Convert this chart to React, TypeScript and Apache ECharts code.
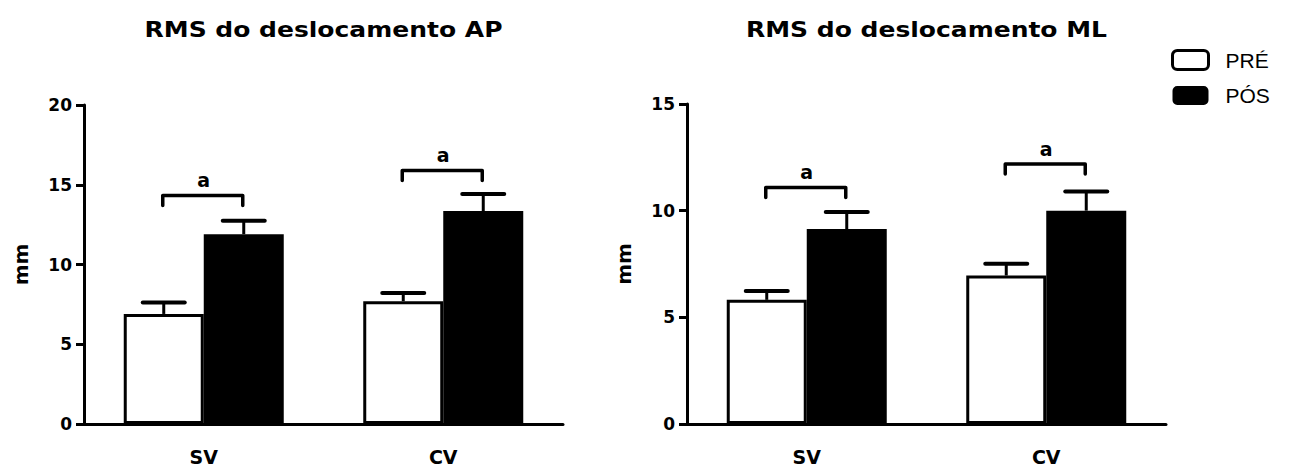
import React, { useEffect, useRef } from "react";
import * as echarts from "echarts";

const categories = ["SV", "CV"];
const titles = ["RMS do deslocamento AP", "RMS do deslocamento ML"];
const yMax = [20, 15];
const yInterval = [5, 5];

// AP (left)
const apPre = [6.9, 7.7];
const apPreErr = [0.72, 0.52];
const apPos = [11.9, 13.35];
const apPosErr = [0.85, 1.07];
const apBracket = [14.33, 15.9];

// ML (right)
const mlPre = [5.82, 6.96];
const mlPreErr = [0.42, 0.55];
const mlPos = [9.14, 10.0];
const mlPosErr = [0.8, 0.9];
const mlBracket = [11.09, 12.19];

const sigLabel = "a";
const BAR_W = 80;

function errSeries(name: string, vals: number[], errs: number[], gi: number, offset: number) {
  return {
    type: "custom",
    name,
    xAxisIndex: gi,
    yAxisIndex: gi,
    z: 5,
    encode: { x: 0, y: 1 },
    data: vals.map((v, i) => [i, v, errs[i]]),
    renderItem: (params: any, api: any) => {
      const idx = api.value(0);
      const v = api.value(1);
      const e = api.value(2);
      const base = api.coord([idx, v]);
      const top = api.coord([idx, v + e]);
      const x = base[0] + offset;
      return {
        type: "group",
        children: [
          { type: "line", shape: { x1: x, y1: base[1], x2: x, y2: top[1] }, style: { stroke: "#000", lineWidth: 3 } },
          { type: "line", shape: { x1: x - 21, y1: top[1], x2: x + 21, y2: top[1] }, style: { stroke: "#000", lineWidth: 4, lineCap: "round" } },
        ],
      };
    },
  };
}

function bracketSeries(name: string, vals: number[], gi: number) {
  return {
    type: "custom",
    name,
    xAxisIndex: gi,
    yAxisIndex: gi,
    z: 5,
    encode: { x: 0, y: 1 },
    data: vals.map((v, i) => [i, v]),
    renderItem: (params: any, api: any) => {
      const idx = api.value(0);
      const v = api.value(1);
      const p = api.coord([idx, v]);
      const x1 = p[0] - BAR_W / 2 - 1;
      const x2 = p[0] + BAR_W / 2 - 1;
      const y = p[1];
      return {
        type: "group",
        children: [
          {
            type: "polyline",
            shape: { points: [[x1, y + 10], [x1, y], [x2, y], [x2, y + 10]] },
            style: { stroke: "#000", lineWidth: 3.5, fill: "none", lineCap: "round", lineJoin: "round" },
          },
          {
            type: "text",
            x: p[0],
            y: y - 15,
            style: {
              text: sigLabel,
              fill: "#000",
              font: "bold 19px 'DejaVu Sans'",
              align: "center",
              verticalAlign: "middle",
            },
          },
        ],
      };
    },
  };
}

export default function App() {
  const ref = useRef<HTMLDivElement>(null);
  useEffect(() => {
    if (!ref.current) return;
    const chart = echarts.init(ref.current, undefined, { renderer: "svg" });
    const grids = [
      { left: 84, top: 105, width: 479, height: 319 },
      { left: 687, top: 104, width: 479, height: 320 },
    ];
    const xAxes = grids.map((_, gi) => ({
      type: "category",
      gridIndex: gi,
      data: categories,
      axisLine: { lineStyle: { color: "#000", width: 3 } },
      axisTick: { alignWithLabel: true, length: 9, lineStyle: { color: "#000", width: 3 } },
      axisLabel: { color: "#000", fontFamily: "DejaVu Sans", fontWeight: "bold", fontSize: 19, margin: 23 },
    }));
    const yAxes = grids.map((_, gi) => ({
      type: "value",
      gridIndex: gi,
      min: 0,
      max: yMax[gi],
      interval: yInterval[gi],
      name: "mm",
      nameLocation: "middle",
      nameGap: 53,
      nameRotate: 90,
      nameTextStyle: { color: "#000", fontFamily: "DejaVu Sans", fontWeight: "bold", fontSize: 20 },
      axisLine: { show: true, lineStyle: { color: "#000", width: 3 } },
      axisTick: { show: true, length: 8, lineStyle: { color: "#000", width: 3 } },
      axisLabel: { color: "#000", fontFamily: "DejaVu Sans", fontWeight: "bold", fontSize: 17, margin: 12 },
      splitLine: { show: false },
    }));
    const preStyle = { color: "#fff", borderColor: "#000", borderWidth: 3 };
    const posStyle = { color: "#000", borderColor: "#000", borderWidth: 0 };
    const barS = (name: string, data: number[], gi: number, style: any) => ({
      type: "bar",
      name,
      xAxisIndex: gi,
      yAxisIndex: gi,
      data,
      barWidth: BAR_W,
      barGap: "0%",
      itemStyle: style,
      z: 2,
    });
    const option: any = {
      animation: false,
      grid: grids,
      xAxis: xAxes,
      yAxis: yAxes,
      legend: {
        orient: "vertical",
        left: 1171,
        top: 49,
        padding: 0,
        itemWidth: 36,
        itemHeight: 19,
        itemGap: 14,
        icon: "roundRect",
        textStyle: { color: "#000", fontFamily: "Liberation Sans", fontSize: 21, padding: [0, 0, 0, 12] },
        data: [
          { name: "PRÉ", itemStyle: { color: "#fff", borderColor: "#000", borderWidth: 3 } },
          { name: "PÓS", itemStyle: { color: "#000", borderColor: "#000", borderWidth: 0 } },
        ],
      },
      graphic: titles.map((t, gi) => ({
        type: "text",
        x: grids[gi].left + grids[gi].width / 2,
        y: 30,
        scaleX: 1.19,
        style: {
          text: t,
          fill: "#000",
          font: "bold 21px 'DejaVu Sans'",
          align: "center",
          verticalAlign: "middle",
        },
      })),
      series: [
        barS("PRÉ", apPre, 0, preStyle),
        barS("PÓS", apPos, 0, posStyle),
        barS("PRÉ", mlPre, 1, preStyle),
        barS("PÓS", mlPos, 1, posStyle),
        errSeries("errApPre", apPre, apPreErr, 0, -BAR_W / 2),
        errSeries("errApPos", apPos, apPosErr, 0, BAR_W / 2),
        errSeries("errMlPre", mlPre, mlPreErr, 1, -BAR_W / 2),
        errSeries("errMlPos", mlPos, mlPosErr, 1, BAR_W / 2),
        bracketSeries("brAp", apBracket, 0),
        bracketSeries("brMl", mlBracket, 1),
      ],
    };
    chart.setOption(option);
    return () => chart.dispose();
  }, []);
  return (
    <div
      ref={ref}
      style={{ position: "absolute", left: 0, top: 0, width: 1289, height: 468, background: "#fff" }}
    />
  );
}
